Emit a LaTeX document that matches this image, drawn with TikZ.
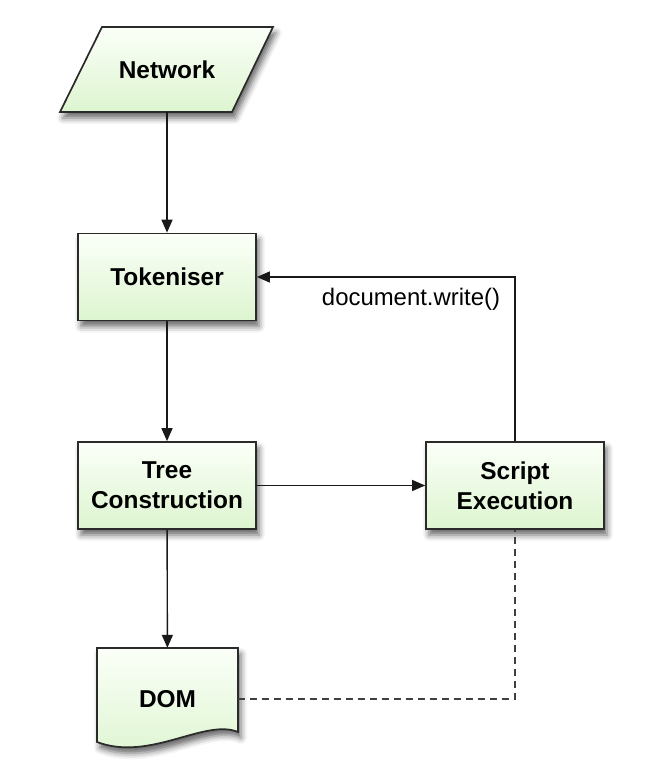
\documentclass[tikz,border=0pt]{standalone}
\usepackage{fontspec}
\setmainfont{Liberation Sans}
\usetikzlibrary{arrows.meta,shadows.blur,calc}
\definecolor{gtop}{HTML}{FBFFF8}
\definecolor{gbot}{HTML}{DDF5D0}
\definecolor{edge}{HTML}{2A2A2A}
\tikzset{
  greenfill/.style={draw=edge, line width=1.7bp, top color=gtop, bottom color=gbot,
    blur shadow={shadow xshift=3bp, shadow yshift=-6bp, shadow blur radius=6bp, shadow opacity=60}},
  stepbox/.style={greenfill, minimum width=178bp, minimum height=87bp, inner sep=0pt, align=center,
    font=\fontsize{24.5}{30}\selectfont\bfseries},
  txtnode/.style={inner sep=0pt, align=center, font=\fontsize{24.5}{30}\selectfont\bfseries},
  arr/.style={draw=black!90, line width=1.4bp, -{Triangle[length=13bp,width=11bp]}},
  dashline/.style={draw=black!75, line width=1.4bp, dash pattern=on 7bp off 5bp},
}
\begin{document}
\begin{tikzpicture}[x=1bp,y=-1bp]
\useasboundingbox (0,0) rectangle (656,782);
% Network parallelogram
\path[greenfill] (102,27) -- (273,27) -- (232,112) -- (60,112) -- cycle;
\node[txtnode, minimum width=170bp, minimum height=85bp] (net) at (167,69.5) {Network};
% Tokeniser
\node[stepbox] (tok) at (167,277) {Tokeniser};
% Tree construction
\node[stepbox] (tc) at (167,485.5) {Tree\\Construction};
% Script execution
\node[stepbox] (se) at (515,485.5) {Script\\Execution};
% DOM document shape
\path[greenfill] (97,648) -- (238,648) -- (238,732)
  .. controls (205,718) and (150,762) .. (97,742) -- cycle;
\node[txtnode, minimum width=141bp, minimum height=102bp] (dom) at (167.5,699) {DOM};
% connectors
\draw[arr] (net) -- (tok);
\draw[arr] (tok) -- (tc);
\draw[arr] (tc) -- (se);
\draw[arr] (tc) -- (dom);
\draw[arr] (se.north) |- (tok.east);
\node[inner sep=0pt, font=\fontsize{24}{30}\selectfont] (dw) at (411,299) {document.write()};
\draw[dashline] (dom.east) -| (se.south);
\end{tikzpicture}
\end{document}
